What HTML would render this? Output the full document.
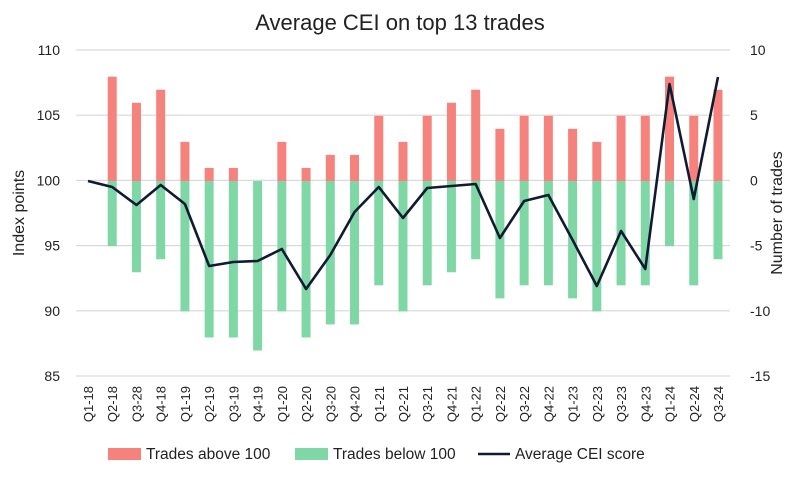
<!DOCTYPE html>
<html><head><meta charset="utf-8"><style>
body{margin:0;background:#fff;width:799px;height:477px;overflow:hidden}
svg text{font-family:"Liberation Sans",sans-serif;fill:#222}
</style></head><body>
<svg id="c" width="799" height="477" xmlns="http://www.w3.org/2000/svg">
<text x="400" y="30" font-size="22" text-anchor="middle">Average CEI on top 13 trades</text>
</svg>
<script>
const s=document.getElementById('c');const NS="http://www.w3.org/2000/svg";
function el(t,a,txt){const e=document.createElementNS(NS,t);for(const k in a)e.setAttribute(k,a[k]);if(txt!==undefined)e.textContent=txt;s.appendChild(e);return e;}
const y0=181,u=13.04;
[110,105,100,95,90,85].forEach((v,i)=>{const y=50+i*65.2;el('line',{x1:76,x2:730,y1:y,y2:y,stroke:'#d9d9d9','stroke-width':1.2});
el('text',{x:60,y:y+5,'font-size':14,'text-anchor':'end'},v);});
[10,5,0,-5,-10,-15].forEach((v,i)=>{const y=50+i*65.2;el('text',{x:750,y:y+5,'font-size':14},v);});
el('text',{transform:'translate(24,213) rotate(-90)','font-size':16,'text-anchor':'middle'},'Index points');
el('text',{transform:'translate(782,213) rotate(-90)','font-size':16,'text-anchor':'middle'},'Number of trades');
const labs=['Q1-18','Q2-18','Q3-28','Q4-18','Q1-19','Q2-19','Q3-19','Q4-19','Q1-20','Q2-20','Q3-20','Q4-20','Q1-21','Q2-21','Q3-21','Q4-21','Q1-22','Q2-22','Q3-22','Q4-22','Q1-23','Q2-23','Q3-23','Q4-23','Q1-24','Q2-24','Q3-24'];
const up=[0,8,6,7,3,1,1,0,3,1,2,2,5,3,5,6,7,4,5,5,4,3,5,5,8,5,7];
const dn=[0,5,7,6,10,12,12,13,10,12,11,11,8,10,8,7,6,9,8,8,9,10,8,8,5,8,6];
const ly=[181,187,205,185,204,266,262,261,249,289,255,212,187,218,188,186,184,238,201,195,240,286,231,269,84,199,77];
const sp=24.23;let pts=[];
labs.forEach((l,i)=>{const x=88+i*sp;
if(up[i])el('rect',{x:x-4.5,y:y0-up[i]*u,width:9,height:up[i]*u,fill:'#f5827c'});
if(dn[i])el('rect',{x:x-4.5,y:y0,width:9,height:dn[i]*u,fill:'#80d7a6'});
el('text',{transform:`translate(${x+5},386) rotate(-90)`,'font-size':13,'text-anchor':'end'},l);
pts.push(x+','+ly[i]);});
el('polyline',{points:pts.join(' '),fill:'none',stroke:'#101a33','stroke-width':2.6,'stroke-linejoin':'round'});
el('rect',{x:108,y:448,width:33,height:12,fill:'#f5827c'});
el('text',{x:146,y:459,'font-size':15.5},'Trades above 100');
el('rect',{x:295,y:448,width:33,height:12,fill:'#80d7a6'});
el('text',{x:333,y:459,'font-size':15.5},'Trades below 100');
el('line',{x1:478,x2:510,y1:454,y2:454,stroke:'#101a33','stroke-width':2.6});
el('text',{x:515,y:459,'font-size':15.5},'Average CEI score');
</script>
</body></html>
